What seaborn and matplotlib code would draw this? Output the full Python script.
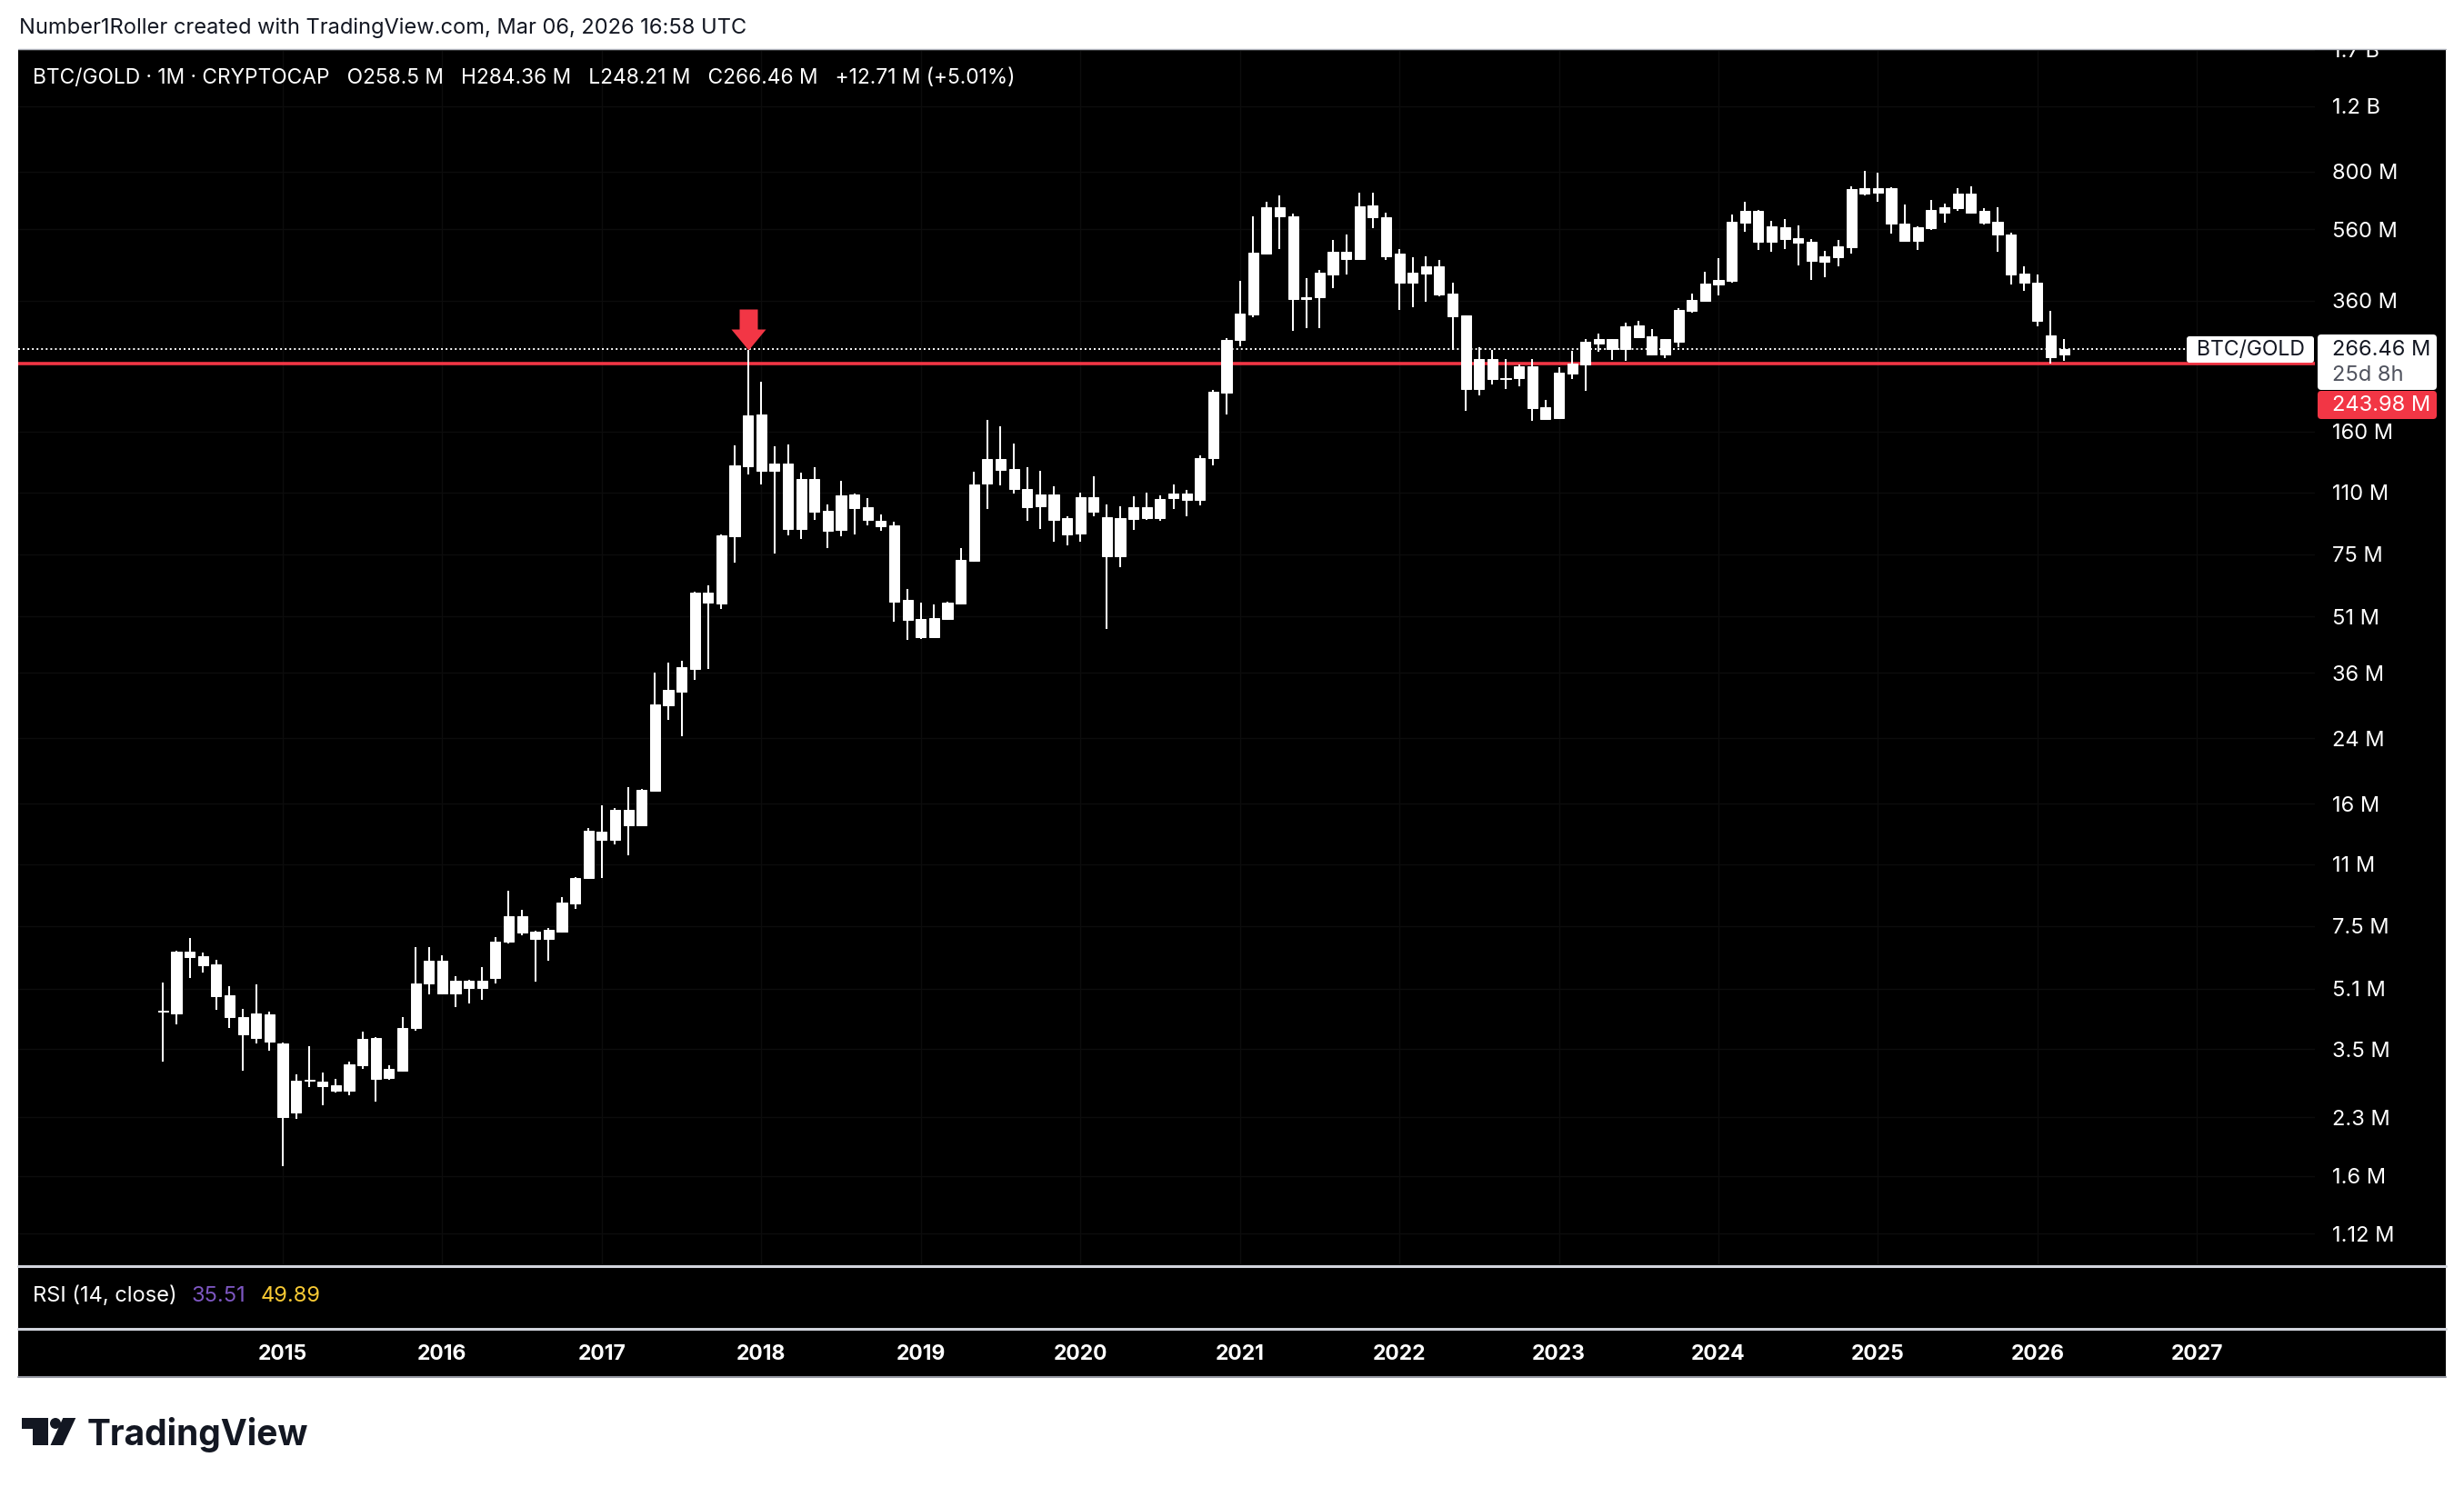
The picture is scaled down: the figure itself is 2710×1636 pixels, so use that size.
import numpy as np
import pandas as pd
import matplotlib
matplotlib.use("Agg")
import matplotlib.pyplot as plt
import matplotlib.transforms as mtransforms
from matplotlib.patches import Rectangle, FancyBboxPatch, Polygon, Circle
from matplotlib.lines import Line2D
from matplotlib.path import Path
from matplotlib.ticker import NullLocator, NullFormatter
import seaborn as sns

# ---------------- data: BTC/GOLD monthly candles, values in millions ----------------
months = pd.period_range("2014-04", "2026-03", freq="M")

opens = [
    4.42, 4.37, 6.41, 6.23, 5.92, 4.89, 4.27, 3.76, 4.35,
    3.63, 2.37, 2.88, 2.87, 2.80, 2.71, 3.17, 3.75, 2.93, 3.07, 3.99, 5.26,
    6.06, 4.95, 5.35, 5.12, 5.44, 6.82, 7.98, 7.25, 6.93, 7.25, 8.64, 10.10,
    13.47, 12.80, 15.41, 14.01, 17.35, 29.42, 32.02, 36.85, 59.11, 55.25, 83.79, 129.2,
    178.1, 125.6, 131.4, 87.64, 119.4, 98.06, 87.15, 108.6, 100.3, 92.18, 89.64, 56.51,
    50.22, 44.87, 50.22, 55.25, 71.98, 116.1, 135.1, 127.0, 112.3, 100.85, 108.6, 93.75,
    85.21, 106.7, 94.27, 74.03, 93.22, 100.3, 93.75, 106.1, 109.2, 104.9, 135.9, 203.8,
    282.5, 330.7, 481.9, 642.2, 607.1, 363.8, 367.9, 423.5, 487.4, 465.9, 649.4, 603.7,
    481.9, 402.6, 425.9, 445.5, 376.4, 328.8, 208.5, 250.9, 221.8, 223.0, 239.9, 186.3,
    174.1, 229.4, 242.6, 284.1, 284.1, 266.9, 309.1, 288.9, 258.1, 279.2, 338.2, 359.8,
    398.1, 407.2, 583.6, 627.9, 518.6, 567.4, 530.4, 518.6, 458.2, 471.2, 501.4, 722.7,
    702.7, 722.7, 580.4, 521.5, 564.2, 620.9, 638.6, 698.7, 627.9, 586.9, 542.4, 425.9,
    402.6, 290.6, 258.5,
]
highs = [
    5.29, 6.45, 6.97, 6.37, 6.09, 5.18, 4.50, 5.23, 4.42,
    3.65, 3.00, 3.57, 3.03, 2.92, 3.25, 3.91, 3.78, 3.17, 4.27, 6.59, 6.59,
    6.27, 5.51, 5.37, 5.82, 7.01, 9.34, 8.30, 7.29, 7.42, 8.98, 10.15, 13.77,
    15.85, 15.58, 17.74, 17.54, 36.03, 38.33, 38.76, 59.45, 61.84, 84.5, 147.1, 265.4,
    218.1, 146.2, 147.9, 124.2, 128.5, 102.0, 118.1, 109.0, 106.1, 95.88, 91.66, 60.46,
    55.57, 54.95, 55.88, 77.88, 124.9, 172.2, 165.5, 148.7, 128.5, 125.6, 114.2, 94.80,
    109.8, 121.5, 102.0, 100.85, 107.35, 109.8, 107.95, 115.5, 111.7, 138.2, 207.0, 285.7,
    407.2, 607.1, 664.3, 690.9, 617.4, 414.1, 435.6, 524.5, 542.4, 702.7, 702.7, 620.9,
    495.8, 471.2, 473.9, 463.3, 402.6, 329.5, 270.0, 265.4, 250.9, 242.6, 250.9, 194.9,
    238.6, 264.0, 284.1, 293.8, 284.5, 314.3, 317.9, 302.2, 284.5, 343.9, 376.4, 430.7,
    468.6, 613.9, 664.3, 630.0, 590.3, 596.9, 573.9, 527.4, 490.1, 524.5, 730.9, 804.2,
    795.2, 725.0, 653.1, 570.7, 671.8, 656.8, 722.7, 730.9, 638.6, 642.2, 548.6, 445.5,
    423.5, 338.2, 284.36,
]
lows = [
    3.25, 4.09, 5.44, 5.63, 4.47, 4.00, 3.07, 3.63, 3.47,
    1.70, 2.28, 2.77, 2.48, 2.68, 2.64, 3.10, 2.53, 2.90, 3.05, 3.93, 4.92,
    4.92, 4.55, 4.65, 4.76, 5.26, 6.74, 7.09, 5.32, 6.06, 7.22, 8.35, 10.05,
    10.11, 12.45, 11.63, 13.95, 17.30, 26.89, 24.30, 34.45, 36.85, 53.42, 71.18, 122.8,
    115.5, 75.29, 84.26, 82.39, 92.70, 77.88, 83.79, 84.74, 89.64, 86.66, 49.38, 44.12,
    44.37, 44.61, 50.0, 55.0, 71.5, 99.17, 114.8, 109.2, 92.18, 87.64, 81.01, 79.20,
    81.01, 94.80, 47.21, 69.20, 87.15, 92.70, 92.18, 99.17, 94.80, 101.4, 129.9, 178.1,
    271.5, 325.1, 480.0, 495.8, 298.8, 303.9, 303.9, 389.3, 423.5, 465.0, 564.2, 463.3,
    340.1, 345.9, 357.7, 370.0, 265.4, 182.1, 200.4, 214.4, 208.5, 212.0, 171.2, 173.0,
    173.5, 221.8, 206.1, 262.5, 249.5, 248.1, 287.0, 256.6, 252.4, 270.0, 334.4, 359.0,
    372.1, 402.6, 551.7, 492.9, 487.4, 495.8, 448.0, 409.5, 416.4, 445.5, 481.9, 690.9,
    664.3, 545.5, 520.0, 492.9, 557.9, 583.6, 627.9, 619.0, 577.1, 487.4, 398.1, 382.8,
    307.3, 243.98, 248.21,
]
closes = [
    4.45, 6.41, 6.20, 5.89, 4.86, 4.27, 3.84, 4.37, 3.67,
    2.30, 2.88, 2.90, 2.79, 2.71, 3.19, 3.73, 2.92, 3.10, 4.00, 5.26, 6.06,
    4.95, 5.35, 5.12, 5.35, 6.82, 7.98, 7.21, 6.93, 7.34, 8.68, 10.11, 13.54,
    12.80, 15.41, 14.01, 17.44, 29.59, 32.38, 37.27, 59.11, 55.57, 84.26, 129.9, 177.1,
    125.6, 131.4, 87.64, 119.4, 97.51, 86.66, 107.95, 99.72, 92.70, 89.13, 55.88, 49.94,
    44.87, 50.50, 55.57, 72.39, 115.5, 135.1, 126.3, 112.3, 100.3, 108.6, 92.70, 84.74,
    106.7, 97.51, 74.03, 93.75, 100.3, 93.75, 105.6, 109.2, 104.9, 135.9, 205.0, 282.5,
    332.5, 484.7, 642.2, 607.1, 363.8, 367.9, 428.3, 487.4, 465.9, 645.8, 603.7, 473.9,
    402.6, 428.3, 445.5, 374.2, 327.0, 208.5, 250.9, 221.8, 223.0, 239.9, 185.2, 173.2,
    230.7, 244.0, 279.2, 276.1, 266.9, 307.3, 287.3, 258.1, 284.1, 340.1, 361.8, 400.4,
    409.5, 586.9, 627.9, 518.6, 570.7, 527.4, 515.7, 460.7, 473.9, 504.2, 718.6, 698.7,
    722.7, 580.4, 521.5, 567.4, 631.4, 642.2, 698.7, 620.9, 583.6, 542.4, 423.5, 402.6,
    317.9, 253.75, 266.46,
]

price_ticks = [1700, 1200, 800, 560, 360, 160, 110, 75, 51, 36, 24, 16, 11,
               7.5, 5.1, 3.5, 2.3, 1.6, 1.12]
price_tick_labels = ["1.7 B", "1.2 B", "800 M", "560 M", "360 M", "160 M", "110 M",
                     "75 M", "51 M", "36 M", "24 M", "16 M", "11 M", "7.5 M", "5.1 M",
                     "3.5 M", "2.3 M", "1.6 M", "1.12 M"]
year_labels = list(range(2015, 2028))
level_price = 243.98          # horizontal red level
rsi_values = [35.51, 49.89]   # RSI legend values
countdown = "25d 8h"
peak_month = "2017-12"

df = pd.DataFrame({"month": months, "open": opens, "high": highs,
                   "low": lows, "close": closes})
df["x"] = np.arange(len(df))
df["top"] = df[["open", "close"]].max(axis=1)
df["bottom"] = df[["open", "close"]].min(axis=1)

# ---------------- style ----------------
sns.set_theme(style="dark", rc={"axes.facecolor": "black", "figure.facecolor": "white"})
plt.rcParams["font.family"] = ["Inter", "DejaVu Sans"]

W, H = 2710, 1636
fig = plt.figure(figsize=(W / 100, H / 100), dpi=100)
fig.patch.set_facecolor("white")


def fx(px):
    return px / W


def fy(py):
    return 1 - py / H


ident = mtransforms.IdentityTransform()

# black chart panel
fig.add_artist(Rectangle((fx(20), fy(1515)), fx(2690) - fx(20), fy(53.5) - fy(1515),
                         transform=fig.transFigure, facecolor="black",
                         edgecolor="none", zorder=-5))

# main price pane
ax = fig.add_axes([fx(20), fy(1391), fx(2546) - fx(20), fy(53.5) - fy(1391)])
ax.set_facecolor("black")
for s in ax.spines.values():
    s.set_visible(False)
ax.set_yscale("log")
ax.set_xlim(-10.9, 161.87)
ax.set_ylim(0.9251, 1713.6)
ax.grid(False)

year_pos = [(pd.Period(f"{y}-01", "M") - months[0]).n for y in year_labels]

# faint grid
for v in price_ticks:
    ax.axhline(v, color="#0c0c0c", lw=1.0, zorder=0.5)
for p in year_pos:
    ax.axvline(p, color="#0c0c0c", lw=1.0, zorder=0.5)

# level and last-price lines
last_close = df["close"].iloc[-1]
ax.axhline(level_price, color="#f23645", lw=2.6, zorder=2)
ax.axhline(last_close, xmin=0, xmax=(2405 - 20) / (2546 - 20), color="white",
           lw=1.4, ls=(0, (1, 1.6)), zorder=2)

# candles (all drawn white, as in the reference)
ax.vlines(df["x"], df["low"], df["high"], color="white", lw=1.45, zorder=3)
ax.bar(df["x"], df["top"] - df["bottom"], bottom=df["bottom"], width=0.76,
       color="white", edgecolor="white", linewidth=0.7, zorder=4)

# red arrow pointing at the 2017 peak
pk = df.index[df["month"] == pd.Period(peak_month, "M")][0]
arrow_verts = [(0, 0), (19, 23), (10, 23), (10, 45), (-10, 45), (-10, 23), (-19, 23), (0, 0)]
arrow_codes = [Path.MOVETO] + [Path.LINETO] * 6 + [Path.CLOSEPOLY]
ax.plot([df.loc[pk, "x"]], [df.loc[pk, "high"]], marker=Path(arrow_verts, arrow_codes),
        ms=64.8, color="#f23645", mec="none", ls="none", zorder=6)

# right price scale
ax.yaxis.tick_right()
ax.yaxis.set_minor_locator(NullLocator())
ax.yaxis.set_minor_formatter(NullFormatter())
ax.set_yticks(price_ticks)
ax.set_yticklabels(price_tick_labels)
ax.tick_params(axis="y", which="both", length=0, pad=13.7, labelsize=17,
               labelcolor="white")
ax.set_xticks([])

# year labels on the time axis
tr_time = mtransforms.blended_transform_factory(ax.transData, fig.transFigure)
for p, y in zip(year_pos, year_labels):
    ax.text(p, fy(1490), str(y), transform=tr_time, ha="center", va="center",
            color="white", fontsize=16.5, fontweight="bold", clip_on=False)


def px_box(x0, y0, x1, y1, color, r=3):
    fig.add_artist(FancyBboxPatch((x0, H - y1), x1 - x0, y1 - y0,
                                  boxstyle=f"round,pad=0,rounding_size={r}",
                                  transform=ident, facecolor=color,
                                  edgecolor="none", zorder=10))


# labels on the price scale
px_box(2405, 370, 2545, 399, "white", r=3)
fig.text(fx(2475), fy(385), "BTC/GOLD", ha="center", va="center", color="#131722",
         fontsize=16.5, zorder=11)
px_box(2549, 368, 2680, 429, "white", r=4)
fig.text(fx(2565), fy(385), f"{last_close:.2f} M", ha="left", va="center",
         color="#131722", fontsize=17, zorder=11)
fig.text(fx(2565), fy(413), countdown, ha="left", va="center", color="#50535e",
         fontsize=17, zorder=11)
px_box(2549, 430, 2680, 461, "#f23645", r=4)
fig.text(fx(2565), fy(446), f"{level_price:.2f} M", ha="left", va="center",
         color="white", fontsize=17, zorder=11)

# separators / borders
for yy, col, lw in [(53.5, "#b2b5be", 1.0), (1392.5, "#d1d4dc", 2.2),
                    (1461.5, "#d1d4dc", 2.2), (1515, "#9598a1", 1.5)]:
    fig.add_artist(Line2D([fx(20), fx(2690)], [fy(yy), fy(yy)], color=col, lw=lw,
                          transform=fig.transFigure, zorder=12))

# header texts
fig.text(fx(21), fy(31), "Number1Roller created with TradingView.com, Mar 06, 2026 16:58 UTC",
         ha="left", va="center", color="#131722", fontsize=17)
o, h, l, c = df[["open", "high", "low", "close"]].iloc[-1]
prev = df["close"].iloc[-2]
chg = c - prev
title = (f"BTC/GOLD · 1M · CRYPTOCAP   O{o:g} M   H{h:g} M   L{l:g} M   "
         f"C{c:g} M   {chg:+.2f} M ({chg / prev * 100:+.2f}%)")
fig.text(fx(36), fy(86), title, ha="left", va="center", color="white", fontsize=16.4)

# RSI legend
renderer = fig.canvas.get_renderer()
t1 = fig.text(fx(36), fy(1426), "RSI (14, close)", ha="left", va="center",
              color="white", fontsize=17)
x_cur = t1.get_window_extent(renderer).x1 + 16
for val, col in zip(rsi_values, ["#7e57c2", "#f7c934"]):
    t = fig.text(x_cur / W, fy(1426), f"{val:.2f}", ha="left", va="center",
                 color=col, fontsize=17)
    x_cur = t.get_window_extent(renderer).x1 + 16

# TradingView logo
logo_col = "#131722"
fig.add_artist(Polygon([(24, H - 1560), (53.3, H - 1560), (53.3, H - 1590), (36, H - 1590),
                        (36, H - 1571.7), (24, H - 1571.7)], closed=True,
                       transform=ident, facecolor=logo_col, edgecolor="none"))
fig.add_artist(Circle((61, H - 1566), 6, transform=ident, facecolor=logo_col,
                      edgecolor="none"))
fig.add_artist(Polygon([(69.3, H - 1560), (83.3, H - 1560), (69.3, H - 1590), (55.5, H - 1590)],
                       closed=True, transform=ident, facecolor=logo_col, edgecolor="none"))
fig.text(fx(96), fy(1590), "TradingView", ha="left", va="baseline", color=logo_col,
         fontsize=28, fontweight="bold")

fig.savefig("out.png", dpi=100, facecolor="white")
